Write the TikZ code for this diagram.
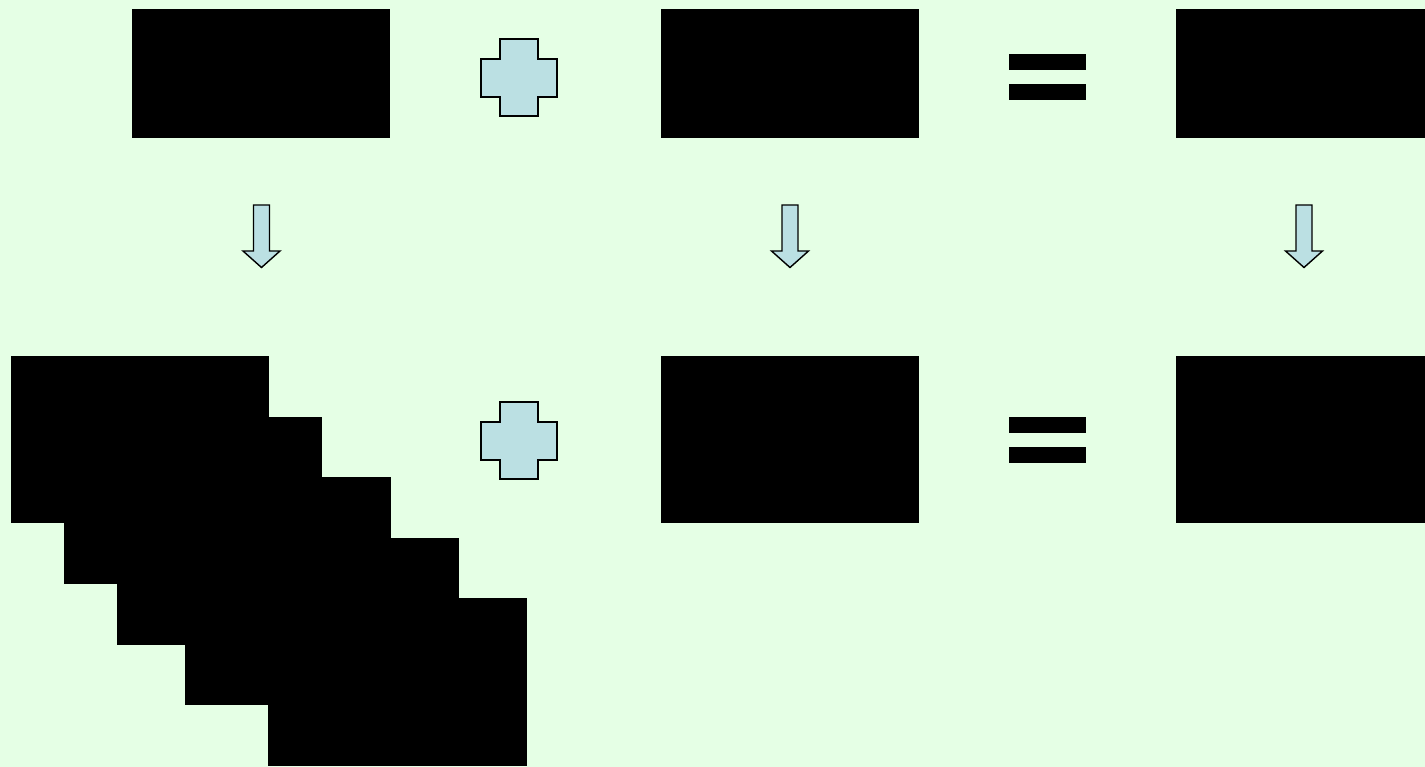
\documentclass[tikz,border=0pt]{standalone}
\usetikzlibrary{positioning}
\definecolor{bggreen}{RGB}{229,255,229}
\definecolor{plusblue}{RGB}{187,224,227}
\tikzset{
  blackbox/.style={rectangle, fill=black, draw=none, inner sep=0pt, outer sep=0pt},
  plusshape/.style={fill=plusblue, draw=black, line width=1.8pt, line join=miter},
  eqbar/.style={fill=black},
  downarrow/.style={fill=plusblue, draw=black, line width=1.4pt, line join=miter},
}
\begin{document}
\begin{tikzpicture}[x=1pt,y=-1pt]
\useasboundingbox (0,0) rectangle (1425,767);
\fill[bggreen] (0,0) rectangle (1425,767);
\clip (0,0) rectangle (1425,767);
% top row boxes
\node[blackbox, minimum width=258pt, minimum height=129pt] (ta) at (261,73.5) {};
\node[blackbox, minimum width=258pt, minimum height=129pt] (tb) at (790,73.5) {};
\node[blackbox, minimum width=258pt, minimum height=129pt] (tc) at (1305,73.5) {};
% bottom row stacked boxes
\node[blackbox, minimum width=258pt, minimum height=167pt] (s1) at (140,439.5) {};
\node[blackbox, minimum width=258pt, minimum height=167pt] (s2) at (193,500.5) {};
\node[blackbox, minimum width=274pt, minimum height=168pt] (s3) at (254,561) {};
\node[blackbox, minimum width=274pt, minimum height=167pt] (s4) at (322,621.5) {};
\node[blackbox, minimum width=259pt, minimum height=168pt] (s5) at (397.5,682) {};
\node[blackbox, minimum width=258pt, minimum height=167pt] (bb) at (790,439.5) {};
\node[blackbox, minimum width=258pt, minimum height=167pt] (bc) at (1305,439.5) {};
% plus signs
\foreach \dy/\nm in {0/plustop,363/plusbot}{
  \draw[plusshape] (500,39+\dy) -- (538,39+\dy) -- (538,59+\dy) -- (557,59+\dy) -- (557,97+\dy)
    -- (538,97+\dy) -- (538,116+\dy) -- (500,116+\dy) -- (500,97+\dy) -- (481,97+\dy)
    -- (481,59+\dy) -- (500,59+\dy) -- cycle;
  \coordinate (\nm) at (518.5,77.5+\dy);
}
% equals signs
\foreach \dy in {0,363}{
  \fill[eqbar] (1009,54+\dy) rectangle (1086,70+\dy);
  \fill[eqbar] (1009,84+\dy) rectangle (1086,100+\dy);
}
% down arrows
\foreach \cx/\nm in {261.5/arA,790/arB,1304/arC}{
  \draw[downarrow] (\cx-8,205) -- (\cx+8,205) -- (\cx+8,251) -- (\cx+18.5,251) -- (\cx,267.5)
    -- (\cx-18.5,251) -- (\cx-8,251) -- cycle;
  \coordinate (\nm) at (\cx,236);
}
\end{tikzpicture}
\end{document}
